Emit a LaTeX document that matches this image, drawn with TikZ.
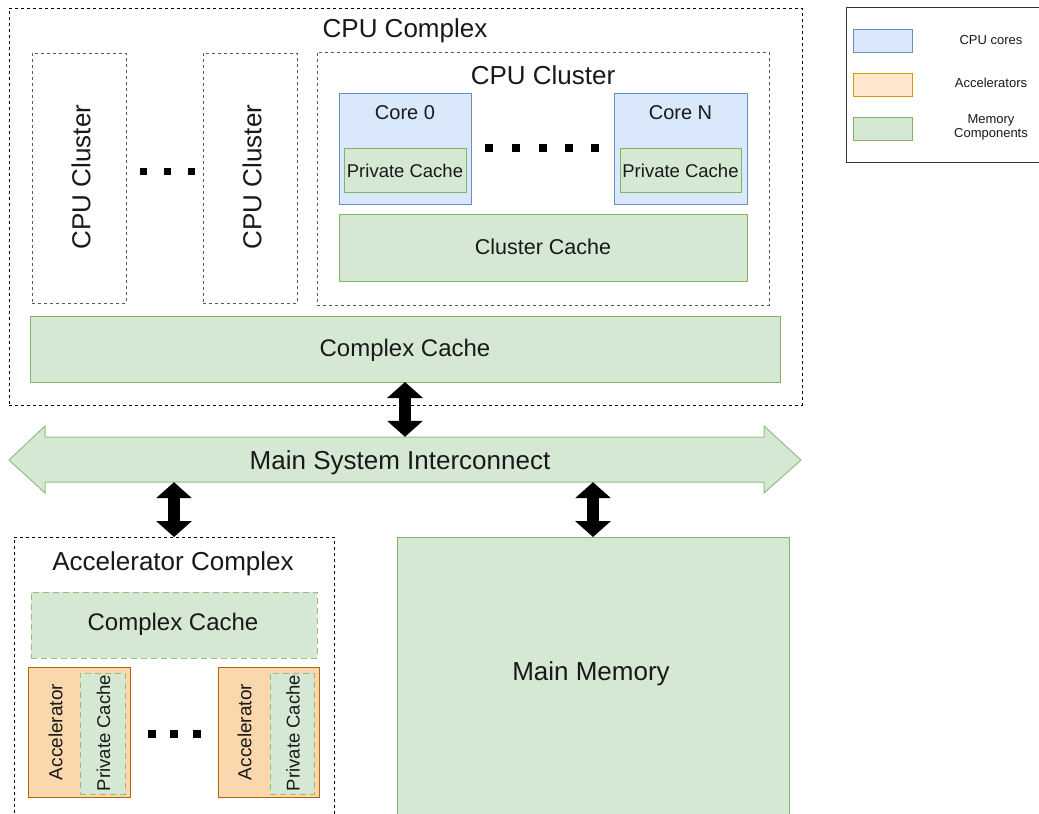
\documentclass[tikz,border=0pt]{standalone}
\usepackage{fontspec}
\setmainfont{Liberation Sans}
\usetikzlibrary{arrows.meta}

\definecolor{cpufill}{HTML}{DAE8FC}
\definecolor{cpuedge}{HTML}{6C8EBF}
\definecolor{memfill}{HTML}{D5E8D4}
\definecolor{memedge}{HTML}{82B366}
\definecolor{accfill}{HTML}{FAD7AC}
\definecolor{accedge}{HTML}{B46504}
\definecolor{legaccfill}{HTML}{FFE6CC}
\definecolor{legaccedge}{HTML}{D79B00}

\newcommand{\fs}[1]{\fontsize{#1}{#1}\selectfont}

\tikzset{
  box/.style={rectangle, inner sep=0pt, outer sep=0pt, line width=1pt},
  dashbox/.style={box, draw=black, line width=0.8pt, dash pattern=on 3pt off 3pt},
  greydash/.style={box, draw=black!65, line width=0.8pt, dash pattern=on 3pt off 3pt},
  cpubox/.style={box, fill=cpufill, draw=cpuedge},
  membox/.style={box, fill=memfill, draw=memedge},
  memdash/.style={box, fill=memfill, draw=memedge!85, dash pattern=on 6pt off 4pt},
  accbox/.style={box, fill=accfill, draw=accedge},
  dotsq/.style={rectangle, fill=black, inner sep=0pt, minimum size=7pt},
  txt/.style={inner sep=0pt, text=black!90},
  biarrow/.style={line width=12pt, {Triangle[width=35pt,length=16pt]}-{Triangle[width=35pt,length=16pt]}, shorten <=0pt, shorten >=0pt},
}

\begin{document}
\begin{tikzpicture}[x=1pt, y=-1pt]
\clip (0,0) rectangle (1039,814);
\fill[white] (0,0) rectangle (1039,814);

% ---------------- CPU complex ----------------
\node[dashbox, minimum width=793pt, minimum height=397pt] (cpucx) at (405.5,206.5) {};
\node[txt, font=\fs{26}] (cpucxt) at (405,31) {CPU Complex};

\node[greydash, minimum width=94pt, minimum height=250pt] (cl1) at (79,178) {};
\node[txt, font=\fs{26}, rotate=90] (cl1t) at (81,177) {CPU Cluster};
\node[greydash, minimum width=94pt, minimum height=250pt] (cl2) at (250,178) {};
\node[txt, font=\fs{26}, rotate=90] (cl2t) at (252,177) {CPU Cluster};

\node[dotsq] (d1) at (143,171) {};
\node[dotsq] (d2) at (167,171) {};
\node[dotsq] (d3) at (191,171) {};

\node[greydash, minimum width=452pt, minimum height=253pt] (clr) at (543,178.5) {};
\node[txt, font=\fs{26}] (clrt) at (543,75) {CPU Cluster};

\node[cpubox, minimum width=132pt, minimum height=111pt] (core0) at (405,148.5) {};
\node[txt, font=\fs{20}] (core0t) at (405,113) {Core 0};
\node[membox, minimum width=122pt, minimum height=44pt] (pc0) at (405,170) {};
\node[txt, font=\fs{18.5}] (pc0t) at (405,171) {Private Cache};

\node[cpubox, minimum width=133pt, minimum height=111pt] (coreN) at (680.5,148.5) {};
\node[txt, font=\fs{20}] (coreNt) at (680.5,113) {Core N};
\node[membox, minimum width=121pt, minimum height=44pt] (pcN) at (680.5,170) {};
\node[txt, font=\fs{18.5}] (pcNt) at (680.5,171) {Private Cache};

\node[dotsq, minimum size=8pt] (e1) at (489,148) {};
\node[dotsq, minimum size=8pt] (e2) at (516,148) {};
\node[dotsq, minimum size=8pt] (e3) at (543,148) {};
\node[dotsq, minimum size=8pt] (e4) at (569,148) {};
\node[dotsq, minimum size=8pt] (e5) at (595,148) {};

\node[membox, minimum width=408pt, minimum height=67pt] (clc) at (543,247.5) {};
\node[txt, font=\fs{21.5}] (clct) at (543,246.5) {Cluster Cache};

\node[membox, minimum width=750pt, minimum height=66pt] (cxc) at (405,349) {};
\node[txt, font=\fs{24}] (cxct) at (405,350) {Complex Cache};

% ---------------- Main system interconnect ----------------
\filldraw[fill=memfill, draw=memedge!85, line width=1pt, line join=miter]
  (9,460) -- (45,426) -- (45,437) -- (764,437) -- (764,426) -- (801,460)
  -- (764,493) -- (764,482) -- (45,482) -- (45,493) -- cycle;
\node[txt, font=\fs{26}, minimum width=719pt, minimum height=45pt] (msi) at (404.5,459.5) {};
\node[txt, font=\fs{26}] (msit) at (400,463) {Main System Interconnect};

% ---------------- Accelerator complex ----------------
\node[dashbox, minimum width=320pt, minimum height=293pt] (acc) at (174,683.5) {};
\node[txt, font=\fs{26}] (acct) at (173,564) {Accelerator Complex};

\node[memdash, minimum width=286pt, minimum height=66pt] (acache) at (174,625) {};
\node[txt, font=\fs{24}] (acachet) at (173,624.5) {Complex Cache};

\node[accbox, minimum width=102pt, minimum height=130pt] (acc1) at (79,732) {};
\node[txt, font=\fs{19}, rotate=90] (acc1t) at (55.5,732) {Accelerator};
\node[memdash, minimum width=45pt, minimum height=121pt] (apc1) at (102.5,733.5) {};
\node[txt, font=\fs{18.5}, rotate=90] (apc1t) at (103.5,733) {Private Cache};

\node[accbox, minimum width=101pt, minimum height=130pt] (acc2) at (268.5,732) {};
\node[txt, font=\fs{19}, rotate=90] (acc2t) at (244.5,732) {Accelerator};
\node[memdash, minimum width=44pt, minimum height=121pt] (apc2) at (292,733.5) {};
\node[txt, font=\fs{18.5}, rotate=90] (apc2t) at (293,733) {Private Cache};

\node[dotsq, minimum size=8pt] (f1) at (152,734) {};
\node[dotsq, minimum size=8pt] (f2) at (174,734) {};
\node[dotsq, minimum size=8pt] (f3) at (197,734) {};

% ---------------- Main memory ----------------
\node[membox, minimum width=392pt, minimum height=293pt] (mem) at (593,683.5) {};
\node[txt, font=\fs{26}] (memt) at (591,674) {Main Memory};

% ---------------- Links ----------------
\draw[biarrow] (cxc.south) -- (cxc.south |- msi.north);
\draw[biarrow] (acc.north |- msi.south) -- (acc.north);
\draw[biarrow] (mem.north |- msi.south) -- (mem.north);

% ---------------- Legend ----------------
\node[box, draw=black!80, line width=1pt, minimum width=204pt, minimum height=155pt] (leg) at (948,84.5) {};
\node[cpubox, minimum width=59pt, minimum height=23pt] (lg1) at (882.5,40.5) {};
\node[box, fill=legaccfill, draw=legaccedge, minimum width=59pt, minimum height=23pt] (lg2) at (882.5,84.5) {};
\node[membox, minimum width=59pt, minimum height=23pt] (lg3) at (882.5,128.5) {};
\node[txt, font=\fs{13}] (lg1t) at (991,40) {CPU cores};
\node[txt, font=\fs{13}] (lg2t) at (991,83) {Accelerators};
\node[txt, font=\fs{13}, align=center] (lg3t) at (991,127) {Memory\\[1pt]Components};
\end{tikzpicture}
\end{document}
